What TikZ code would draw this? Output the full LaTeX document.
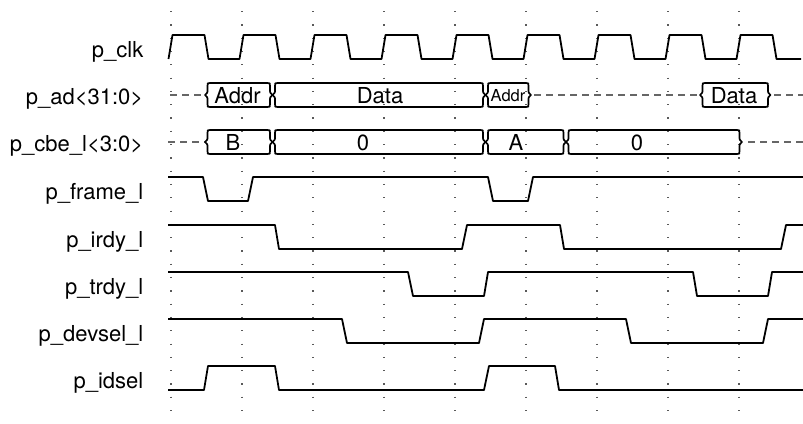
\documentclass[tikz,border=0pt]{standalone}
\usepackage{fontspec}
\setmainfont{TeX Gyre Heros}
\begin{document}
\begin{tikzpicture}[x=1pt,y=-1pt,
  wave/.style={line width=1.8pt,line join=round,black},
  busline/.style={line width=1.7pt,line join=round,black},
  undef/.style={line width=1.2pt,gray!80!black,dash pattern=on 7pt off 5pt},
  gridline/.style={line width=1.3pt,gray!70!black,dash pattern=on 1.2pt off 12.1pt},
  siglabel/.style={anchor=base east,inner sep=0pt,font=\fontsize{22}{24}\selectfont},
  bustext/.style={anchor=base,inner sep=0pt,font=\fontsize{22}{24}\selectfont},
  smalltext/.style={anchor=base,inner sep=0pt,font=\fontsize{16.5}{18}\selectfont}]
\useasboundingbox (0,0) rectangle (803,423);
% grid
\foreach \d in {171,242,313,384,455,526,597,668,739}
  \draw[gridline] (\d,11) -- (\d,423);
% labels
\node[siglabel] (lclk) at (143.5,57.5) {p\_clk};
\node[siglabel] (lad) at (143.5,104) {p\_ad<31:0>};
\node[siglabel] (lcbe) at (143.5,151.5) {p\_cbe\_l<3:0>};
\node[siglabel] (lframe) at (143.5,199.5) {p\_frame\_l};
\node[siglabel] (lirdy) at (143.5,247.5) {p\_irdy\_l};
\node[siglabel] (ltrdy) at (143.5,294.5) {p\_trdy\_l};
\node[siglabel] (ldevsel) at (143.5,341.5) {p\_devsel\_l};
\node[siglabel] (lidsel) at (143.5,388.5) {p\_idsel};
% clock
\draw[wave] (168.5,59)
  \foreach \d in {171,242,313,384,455,526,597,668,739} {
    -- (\d-2.5,59) -- (\d+1.5,35) -- (\d+33.5,35) -- (\d+37.5,59)
  } -- (801,59);
% bus box macro
\newcommand{\busbox}[3]{%
  \draw[busline] (#1,#3)
    .. controls ({#1+2.5},{#3-2}) .. ({#1+2.5},{#3-6})
    -- ({#1+2.5},{#3-9}) .. controls ({#1+2.5},{#3-12}) .. ({#1+5},{#3-12})
    -- ({#2-5},{#3-12}) .. controls ({#2-2.5},{#3-12}) .. ({#2-2.5},{#3-9})
    -- ({#2-2.5},{#3-6}) .. controls ({#2-2.5},{#3-2}) .. (#2,#3)
    .. controls ({#2-2.5},{#3+2}) .. ({#2-2.5},{#3+6})
    -- ({#2-2.5},{#3+9}) .. controls ({#2-2.5},{#3+12}) .. ({#2-5},{#3+12})
    -- ({#1+5},{#3+12}) .. controls ({#1+2.5},{#3+12}) .. ({#1+2.5},{#3+9})
    -- ({#1+2.5},{#3+6}) .. controls ({#1+2.5},{#3+2}) .. (#1,#3) -- cycle;}
% p_ad
\draw[undef] (170,95) -- (205,95);
\busbox{205}{272.5}{95}
\busbox{272.5}{485.5}{95}
\busbox{485.5}{531}{95}
\draw[undef] (534,95) -- (700,95);
\busbox{700}{770.5}{95}
\draw[undef] (774,95) -- (803,95);
\node[bustext] (tad1) at (237.5,103) {Addr};
\node[bustext] (tad2) at (380,103) {Data};
\node[smalltext] (tad3) at (508,101) {Addr};
\node[bustext] (tad4) at (734,103) {Data};
% p_cbe
\draw[undef] (168,142) -- (205,142);
\busbox{205}{272.5}{142}
\busbox{272.5}{485.5}{142}
\busbox{485.5}{566}{142}
\busbox{566}{742}{142}
\draw[undef] (748,142) -- (803,142);
\node[bustext] (tcb1) at (233,150) {B};
\node[bustext] (tcb2) at (363,150) {0};
\node[bustext] (tcb3) at (516,150) {A};
\node[bustext] (tcb4) at (637,150) {0};
% p_frame_l
\draw[wave] (168,177) -- (203,177) -- (208,201) -- (248,201) -- (253,177) -- (488,177) -- (493,201) -- (528,201) -- (533,177) -- (803,177);
% p_irdy_l
\draw[wave] (168,225) -- (275,225) -- (279,249) -- (462,249) -- (467,225) -- (560,225) -- (564,249) -- (781,249) -- (786,225) -- (803,225);
% p_trdy_l
\draw[wave] (168,272) -- (408,272) -- (413,296) -- (484,296) -- (488,272) -- (693,272) -- (697,296) -- (768,296) -- (772,272) -- (803,272);
% p_devsel_l
\draw[wave] (168,319) -- (342,319) -- (347,343) -- (479,343) -- (484,319) -- (626,319) -- (631,343) -- (763,343) -- (768,319) -- (803,319);
% p_idsel
\draw[wave] (168,390) -- (204,390) -- (208,366) -- (275,366) -- (279,390) -- (484,390) -- (489,366) -- (555,366) -- (559,390) -- (803,390);
\end{tikzpicture}
\end{document}
